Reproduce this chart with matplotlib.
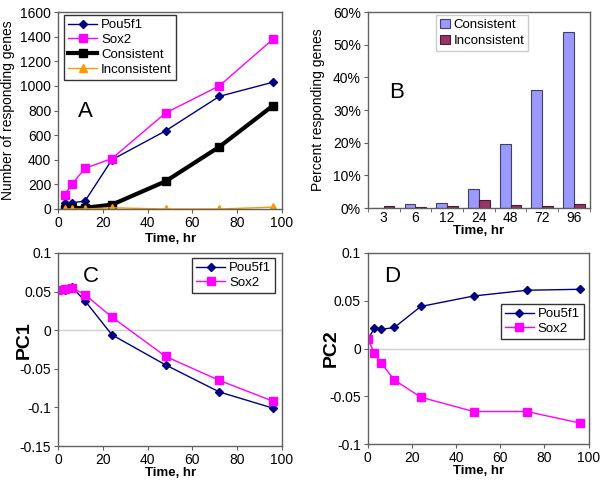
import numpy as np
import matplotlib
matplotlib.use("Agg")
import matplotlib.pyplot as plt
from matplotlib.ticker import PercentFormatter

plt.rcParams['font.family'] = ['Liberation Sans', 'DejaVu Sans']

# Panel A: number of responding genes
time_a = [3, 6, 12, 24, 48, 72, 96]
pou_a = [45, 50, 65, 400, 635, 915, 1030]
sox_a = [115, 200, 330, 410, 780, 1000, 1380]
cons_a = [3, 5, 10, 35, 225, 505, 840]
incons_a = [0, 0, 0, 10, 0, 0, 15]

# Panel B: percent responding genes
time_labels_b = ['3', '6', '12', '24', '48', '72', '96']
cons_b = [0.0, 1.2, 1.6, 5.7, 19.6, 36.2, 54.0]
incons_b = [0.6, 0.3, 0.6, 2.4, 0.9, 0.6, 1.2]

# Panels C and D: principal components
time_cd = [0, 3, 6, 12, 24, 48, 72, 96]
pou_pc1 = [0.052, 0.052, 0.056, 0.038, -0.006, -0.045, -0.080, -0.101]
sox_pc1 = [0.052, 0.054, 0.055, 0.046, 0.017, -0.034, -0.065, -0.092]
pou_pc2 = [0.010, 0.021, 0.020, 0.022, 0.044, 0.055, 0.061, 0.062]
sox_pc2 = [0.010, -0.005, -0.015, -0.033, -0.051, -0.066, -0.066, -0.078]

navy = '#000080'
magenta = '#FF00FF'
orange = '#FF9900'
tick_fs = 10
leg_fs = 9.5
letter_fs = 16

fig = plt.figure(figsize=(6, 5), dpi=100)
axA = fig.add_axes([0.097, 0.582, 0.373, 0.394])
axB = fig.add_axes([0.613, 0.584, 0.370, 0.392])
axC = fig.add_axes([0.097, 0.108, 0.373, 0.386])
axD = fig.add_axes([0.613, 0.112, 0.368, 0.382])


def style(ax):
    for s in ax.spines.values():
        s.set_color('#606060')
        s.set_linewidth(1.0)
    ax.tick_params(labelsize=tick_fs, direction='out', length=3, color='#606060', pad=2)


def boxed_legend(ax, loc, anchor, edge='black'):
    leg = ax.legend(loc=loc, bbox_to_anchor=anchor, fontsize=leg_fs, frameon=True,
                    fancybox=False, edgecolor=edge, borderpad=0.3, labelspacing=0.2,
                    handlelength=2.2, handletextpad=0.3, borderaxespad=0.0)
    leg.get_frame().set_linewidth(1)
    return leg


# A
axA.plot(time_a, pou_a, color=navy, marker='D', ms=4, lw=1, label='Pou5f1')
axA.plot(time_a, sox_a, color=magenta, marker='s', ms=6, lw=1, label='Sox2')
axA.plot(time_a, cons_a, color='black', marker='s', ms=6, lw=3, label='Consistent')
axA.plot(time_a, incons_a, color=orange, marker='^', ms=6, lw=1, label='Inconsistent')
axA.set_xlim(0, 100)
axA.set_ylim(0, 1600)
axA.set_xticks(range(0, 101, 20))
axA.set_yticks(range(0, 1601, 200))
axA.set_ylabel('Number of responding genes', fontsize=10)
axA.yaxis.set_label_coords(-0.192, 0.5)
axA.set_xlabel('Time, hr', fontsize=9.5, fontweight='bold', labelpad=2)
axA.text(0.09, 0.467, 'A', transform=axA.transAxes, fontsize=letter_fs)
boxed_legend(axA, 'upper left', (0.027, 0.985))
style(axA)

# B
xb = np.arange(len(time_labels_b))
w = 0.34
axB.bar(xb - w / 2, cons_b, width=w, color='#9999FF', edgecolor='#404060', lw=0.8, label='Consistent')
axB.bar(xb + w / 2, incons_b, width=w, color='#993366', edgecolor='#402030', lw=0.8, label='Inconsistent')
axB.set_xlim(-0.5, len(xb) - 0.5)
axB.set_ylim(0, 60)
axB.set_yticks(range(0, 61, 10))
axB.yaxis.set_major_formatter(PercentFormatter(decimals=0))
axB.set_xticks(xb)
axB.set_xticklabels(time_labels_b)
axB.set_xticks(np.arange(-0.5, len(xb), 1), minor=True)
axB.set_ylabel('Percent responding genes', fontsize=10)
axB.yaxis.set_label_coords(-0.194, 0.5)
axB.set_xlabel('Time, hr', fontsize=9.5, fontweight='bold', labelpad=0)
axB.text(0.098, 0.56, 'B', transform=axB.transAxes, fontsize=letter_fs)
legB = axB.legend(loc='upper center', bbox_to_anchor=(0.516, 0.985), fontsize=leg_fs, frameon=True,
                  fancybox=False, edgecolor='#c0c0c0', borderpad=0.3, labelspacing=0.3,
                  handlelength=0.7, handleheight=0.7, handletextpad=0.3, borderaxespad=0.0)
style(axB)
axB.tick_params(axis='x', which='major', length=0)
axB.tick_params(axis='x', which='minor', length=3, color='#606060')

# C
axC.axhline(0, color='#d0d0d0', lw=1, zorder=0)
axC.plot(time_cd, pou_pc1, color=navy, marker='D', ms=4, lw=1, label='Pou5f1')
axC.plot(time_cd, sox_pc1, color=magenta, marker='s', ms=6, lw=1, label='Sox2')
axC.set_xlim(0, 100)
axC.set_ylim(-0.15, 0.1)
axC.set_xticks(range(0, 101, 20))
axC.set_yticks([-0.15, -0.1, -0.05, 0, 0.05, 0.1])
axC.set_yticklabels(['-0.15', '-0.1', '-0.05', '0', '0.05', '0.1'])
axC.set_ylabel('PC1', fontsize=14, fontweight='bold')
axC.yaxis.set_label_coords(-0.112, 0.55)
axC.set_xlabel('Time, hr', fontsize=9.5, fontweight='bold', labelpad=0)
axC.text(0.11, 0.85, 'C', transform=axC.transAxes, fontsize=letter_fs)
boxed_legend(axC, 'upper right', (0.969, 0.974))
style(axC)

# D
axD.axhline(0, color='#d0d0d0', lw=1, zorder=0)
axD.plot(time_cd, pou_pc2, color=navy, marker='D', ms=4, lw=1, label='Pou5f1')
axD.plot(time_cd, sox_pc2, color=magenta, marker='s', ms=6, lw=1, label='Sox2')
axD.set_xlim(0, 100)
axD.set_ylim(-0.1, 0.1)
axD.set_xticks(range(0, 101, 20))
axD.set_yticks([-0.1, -0.05, 0, 0.05, 0.1])
axD.set_yticklabels(['-0.1', '-0.05', '0', '0.05', '0.1'])
axD.set_ylabel('PC2', fontsize=14, fontweight='bold')
axD.yaxis.set_label_coords(-0.127, 0.5)
axD.set_xlabel('Time, hr', fontsize=9.5, fontweight='bold', labelpad=0)
axD.text(0.076, 0.85, 'D', transform=axD.transAxes, fontsize=letter_fs)
boxed_legend(axD, 'upper right', (0.978, 0.733))
style(axD)

fig.savefig('out.png', dpi=100)
